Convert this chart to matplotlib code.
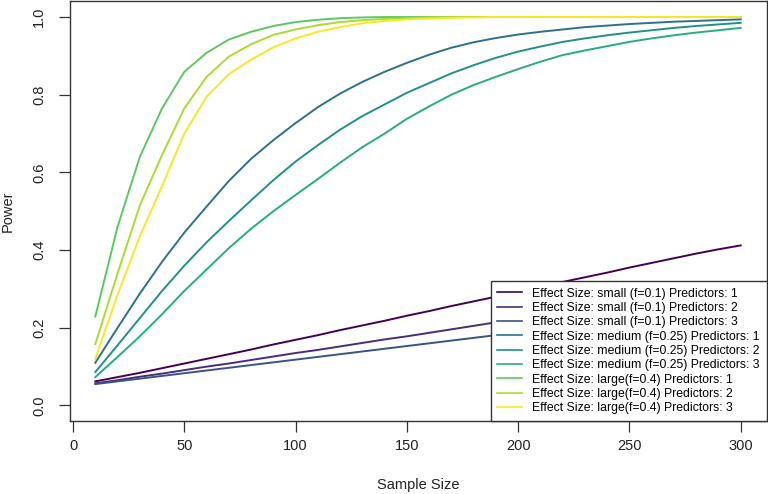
"""Power curves for regression by effect size and number of predictors."""

import matplotlib

matplotlib.use("Agg")
import matplotlib.pyplot as plt
import numpy as np

plt.rcParams["font.family"] = ["Liberation Sans", "DejaVu Sans"]

sample_sizes = np.arange(10, 301, 10)

small_p1 = [0.062, 0.073, 0.084, 0.096, 0.108, 0.120, 0.132, 0.144, 0.157, 0.169,
            0.181, 0.194, 0.206, 0.218, 0.231, 0.243, 0.256, 0.268, 0.280, 0.293,
            0.305, 0.318, 0.330, 0.342, 0.355, 0.367, 0.379, 0.391, 0.402, 0.412]
small_p2 = [0.057, 0.065, 0.074, 0.082, 0.091, 0.100, 0.108, 0.117, 0.126, 0.135,
            0.143, 0.152, 0.161, 0.170, 0.178, 0.187, 0.196, 0.205, 0.214, 0.222,
            0.231, 0.240, 0.249, 0.258, 0.266, 0.275, 0.284, 0.293, 0.301, 0.310]
small_p3 = [0.055, 0.062, 0.069, 0.076, 0.083, 0.090, 0.097, 0.104, 0.111, 0.118,
            0.125, 0.132, 0.139, 0.146, 0.153, 0.160, 0.167, 0.174, 0.181, 0.188,
            0.195, 0.202, 0.209, 0.216, 0.223, 0.230, 0.237, 0.244, 0.251, 0.258]
medium_p1 = [0.110, 0.200, 0.288, 0.370, 0.445, 0.512, 0.578, 0.635, 0.683, 0.727,
             0.768, 0.803, 0.833, 0.859, 0.882, 0.903, 0.921, 0.935, 0.946, 0.955,
             0.962, 0.968, 0.974, 0.978, 0.982, 0.985, 0.988, 0.990, 0.992, 0.994]
medium_p2 = [0.086, 0.155, 0.225, 0.295, 0.360, 0.420, 0.475, 0.528, 0.580, 0.628,
             0.670, 0.710, 0.745, 0.775, 0.805, 0.830, 0.855, 0.876, 0.895, 0.911,
             0.924, 0.936, 0.945, 0.953, 0.960, 0.966, 0.972, 0.977, 0.981, 0.985]
medium_p3 = [0.073, 0.125, 0.178, 0.235, 0.295, 0.350, 0.405, 0.455, 0.500, 0.542,
             0.583, 0.625, 0.665, 0.700, 0.738, 0.770, 0.800, 0.825, 0.846, 0.866,
             0.885, 0.902, 0.914, 0.925, 0.936, 0.945, 0.953, 0.960, 0.966, 0.972]
large_p1 = [0.229, 0.460, 0.640, 0.765, 0.859, 0.908, 0.942, 0.962, 0.977, 0.987,
            0.993, 0.997, 0.999, 1.000, 1.000, 1.000, 1.000, 1.000, 1.000, 1.000,
            1.000, 1.000, 1.000, 1.000, 1.000, 1.000, 1.000, 1.000, 1.000, 1.000]
large_p2 = [0.158, 0.340, 0.515, 0.645, 0.765, 0.846, 0.898, 0.930, 0.954, 0.968,
            0.979, 0.987, 0.992, 0.995, 0.997, 0.999, 1.000, 1.000, 1.000, 1.000,
            1.000, 1.000, 1.000, 1.000, 1.000, 1.000, 1.000, 1.000, 1.000, 1.000]
large_p3 = [0.120, 0.285, 0.435, 0.565, 0.700, 0.795, 0.853, 0.890, 0.922, 0.945,
            0.962, 0.974, 0.984, 0.990, 0.994, 0.996, 0.998, 0.999, 1.000, 1.000,
            1.000, 1.000, 1.000, 1.000, 1.000, 1.000, 1.000, 1.000, 1.000, 1.000]

series = [small_p1, small_p2, small_p3, medium_p1, medium_p2, medium_p3,
          large_p1, large_p2, large_p3]
labels = [
    "Effect Size: small (f=0.1) Predictors: 1",
    "Effect Size: small (f=0.1) Predictors: 2",
    "Effect Size: small (f=0.1) Predictors: 3",
    "Effect Size: medium (f=0.25) Predictors: 1",
    "Effect Size: medium (f=0.25) Predictors: 2",
    "Effect Size: medium (f=0.25) Predictors: 3",
    "Effect Size: large(f=0.4) Predictors: 1",
    "Effect Size: large(f=0.4) Predictors: 2",
    "Effect Size: large(f=0.4) Predictors: 3",
]
# viridis(9) as used by R
colors = ["#440154", "#472D7B", "#3B528B", "#2C728E", "#21908C",
          "#27AD81", "#5DC863", "#AADC32", "#FDE725"]

fig = plt.figure(figsize=(7.68, 4.94), dpi=100)
ax = fig.add_axes([69.5 / 768, 73 / 494, 697 / 768, 419.5 / 494])

for values, label, color in zip(series, labels, colors):
    ax.plot(sample_sizes, values, color=color, linewidth=1.4, label=label)

ax.set_xlim(-1.6, 311.6)
ax.set_ylim(-0.04, 1.04)
ax.set_xticks([0, 50, 100, 150, 200, 250, 300])
ax.set_yticks([0.0, 0.2, 0.4, 0.6, 0.8, 1.0])
ax.set_yticklabels(["0.0", "0.2", "0.4", "0.6", "0.8", "1.0"], rotation=90, va="center")
ax.tick_params(direction="out", length=8, width=0.9, colors="#333333",
               labelsize=10.5, labelcolor="#222222")
ax.tick_params(axis="x", pad=5)
ax.tick_params(axis="y", pad=9)
for spine in ax.spines.values():
    spine.set_color("#333333")
    spine.set_linewidth(1.0)

ax.set_xlabel("Sample Size", fontsize=10.5, color="#222222", labelpad=18)
ax.set_ylabel("Power", fontsize=10.5, color="#222222", labelpad=12)

legend = ax.legend(
    loc="lower right",
    bbox_to_anchor=(1.0, 0.0),
    borderaxespad=0,
    fontsize=8.8,
    handlelength=2.0,
    handletextpad=0.85,
    labelspacing=0.19,
    borderpad=0.55,
    fancybox=False,
    framealpha=1,
    edgecolor="#333333",
)
legend.get_frame().set_linewidth(1.0)
for line in legend.get_lines():
    line.set_linewidth(1.2)

fig.savefig("out.png", dpi=100)
